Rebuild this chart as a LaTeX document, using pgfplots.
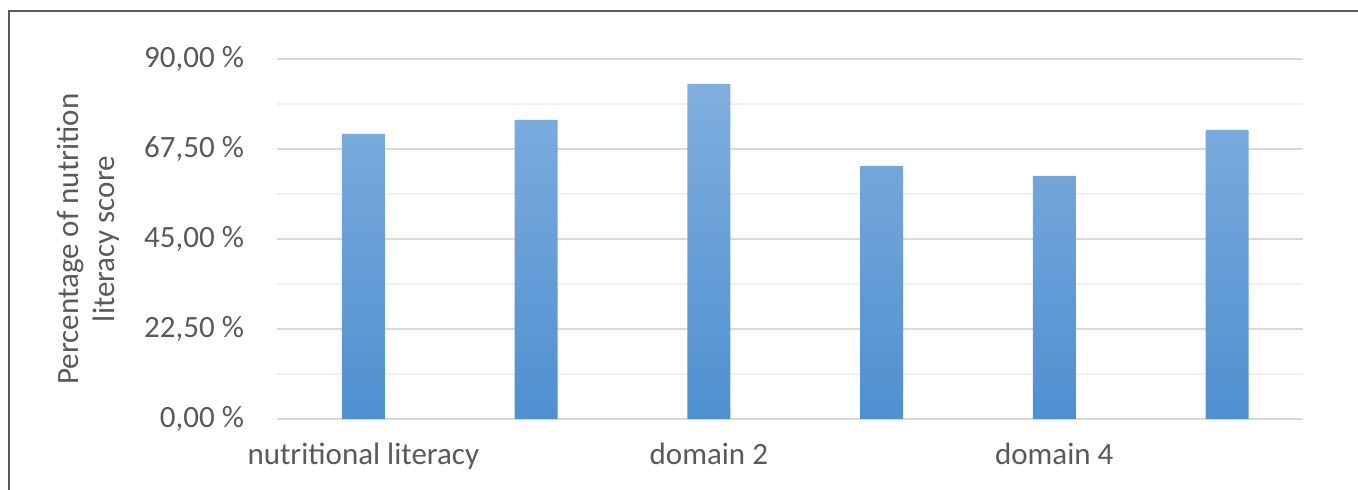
\documentclass[border=0pt]{standalone}
\usepackage{pgfplots}
\pgfplotsset{compat=1.18}
\usepackage{fontspec}
\setmainfont{Carlito}
\definecolor{txt}{HTML}{595959}
\definecolor{majgrid}{HTML}{D9D9D9}
\definecolor{mingrid}{HTML}{F0F0F0}
\definecolor{bartop}{HTML}{80AEDF}
\definecolor{barbot}{HTML}{4F90CF}
\definecolor{frame}{HTML}{5A5A5A}
\begin{document}
\begin{tikzpicture}[x=1pt,y=1pt]
\useasboundingbox (0,0) rectangle (679,245);
\draw[frame, line width=1pt] (4.5,0) -- (4.5,239.5) -- (679,239.5);
\begin{axis}[
  at={(138.5pt,35.5pt)}, anchor=south west,
  scale only axis, width=513pt, height=180pt,
  xmin=-0.5, xmax=5.44, ymin=0, ymax=90,
  axis line style={draw=none},
  ytick={0,22.5,45,67.5,90},
  minor ytick={11.25,33.75,56.25,78.75},
  yticklabels={{0,00 \%},{22,50 \%},{45,00 \%},{67,50 \%},{90,00 \%}},
  xtick={0,1,2,3,4,5},
  xticklabels={nutritional literacy,,domain 2,,domain 4,},
  major tick length=0pt, minor tick length=0pt,
  ymajorgrids, yminorgrids,
  major grid style={majgrid, line width=1pt},
  minor grid style={mingrid, line width=1pt},
  tick label style={font=\fontsize{15.5}{18}\selectfont, text=txt},
  yticklabel style={xshift=-13pt},
  xticklabel style={yshift=-8.5pt},
  ylabel={Percentage of nutrition\\literacy score},
  every axis y label/.style={at={(axis description cs:-0.184,0.5)}, rotate=90, anchor=center, align=center, font=\fontsize{15.5}{18}\selectfont, text=txt},
  clip=false,
]
\addplot[ybar, bar width=21.5pt, draw=none, top color=bartop, bottom color=barbot]
  coordinates {(0,71.25) (1,74.75) (2,83.75) (3,63.25) (4,60.75) (5,72.25)};
\end{axis}
\end{tikzpicture}
\end{document}
